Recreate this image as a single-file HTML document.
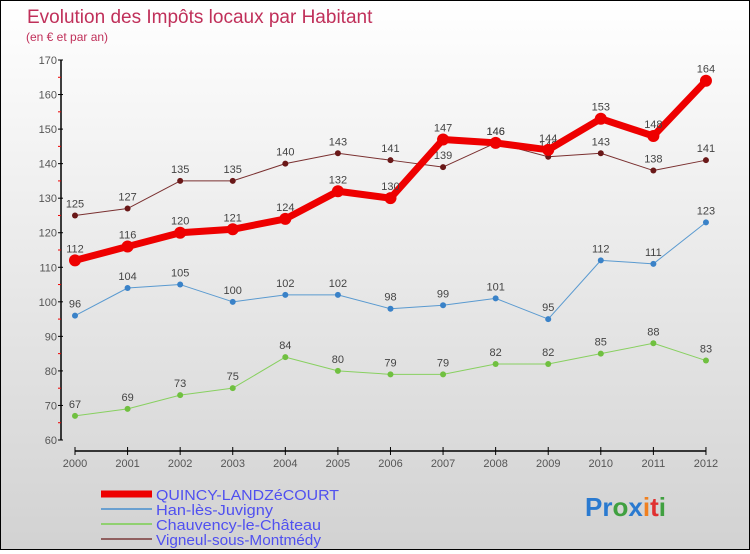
<!DOCTYPE html>
<html><head><meta charset="utf-8"><style>
body{margin:0}
#c{width:748px;height:548px;border:1px solid #000;background:linear-gradient(#fff,#d2d2d2);position:relative;font-family:"Liberation Sans",sans-serif}
</style></head><body>
<div id="c">
<svg id="s" width="748" height="548"></svg>
</div>
<script>
const years=[2000,2001,2002,2003,2004,2005,2006,2007,2008,2009,2010,2011,2012];
const quincy=[112,116,120,121,124,132,130,147,146,144,153,148,164];
const han=[96,104,105,100,102,102,98,99,101,95,112,111,123];
const chauv=[67,69,73,75,84,80,79,79,82,82,85,88,83];
const vign=[125,127,135,135,140,143,141,139,146,142,143,138,141];
const yTicks=[60,70,80,90,100,110,120,130,140,150,160,170];
const NS="http://www.w3.org/2000/svg";
const s=document.getElementById('s');
const X=i=>74+i*52.58;
const Y=v=>439-(v-60)*3.4545;
function mk(t,a,p){const e=document.createElementNS(NS,t);for(const k in a)e.setAttribute(k,a[k]);(p||s).appendChild(e);return e;}
let t=mk('text',{x:26,y:22,'font-size':19,fill:'#c0305a'});t.textContent='Evolution des Impôts locaux par Habitant';


t=mk('text',{x:25,y:40,'font-size':12,fill:'#c0305a'});t.textContent='(en € et par an)';


// y axis
let ax=mk('line',{x1:60,y1:Y(170),x2:60,y2:Y(60),stroke:'#000','stroke-width':1.5});


yTicks.forEach((v,i)=>{
 mk('line',{x1:57,x2:62,y1:Y(v),y2:Y(v),stroke:'#000'});
 if(i<yTicks.length-1)mk('line',{x1:57,x2:60,y1:Y(v+5),y2:Y(v+5),stroke:'#e00'});
 const l=mk('text',{x:56,y:Y(v)+4,'font-size':11,fill:'#555','text-anchor':'end'});l.textContent=v;
 
 
});
ax=mk('line',{x1:X(0),y1:450,x2:X(12),y2:450,stroke:'#000','stroke-width':1.5});


years.forEach((y,i)=>{
 mk('line',{x1:X(i),x2:X(i),y1:446,y2:454,stroke:'#000'});
 const l=mk('text',{x:X(i),y:466,'font-size':11,fill:'#555','text-anchor':'middle'});l.textContent=y;
 
 
});
function series(d,col,w,r,dot,name){
 const g=mk('g',{});
 
 
 mk('polyline',{points:d.map((v,i)=>X(i)+','+Y(v)).join(' '),fill:'none',stroke:col,'stroke-width':w,'stroke-linejoin':'round'},g);
 d.forEach((v,i)=>{
  const c=mk('circle',{cx:X(i),cy:Y(v),r:r,fill:dot},g);
  
  
  const l=mk('text',{x:X(i),y:Y(v)-8,'font-size':11,fill:'#444','text-anchor':'middle'},g);l.textContent=v;
 });
}
series(vign,'#7a3030',1,3,'#6a1818','series-vigneul');
series(chauv,'#88d060',1,3,'#70c040','series-chauvency');
series(han,'#5a9ad0',1,3,'#3a82c8','series-han');
series(quincy,'#ee0000',7,6,'#ee0000','series-quincy');
const leg=[['QUINCY-LANDZéCOURT','#ee0000',7],['Han-lès-Juvigny','#6aa0d0',2],['Chauvency-le-Château','#90d070',2],['Vigneul-sous-Montmédy','#906060',2]];
leg.forEach((e,i)=>{
 const y=493+i*15;
 const g=mk('g',{});
 
 
 mk('line',{x1:100,x2:151,y1:y,y2:y,stroke:e[1],'stroke-width':e[2]},g);
 const l=mk('text',{x:155,y:y+6,'font-size':15,fill:'#5050f0',textLength:e[0].length>16?(i==0?183:165):117,lengthAdjust:'spacingAndGlyphs'},g);l.textContent=e[0];
});
const lg=mk('text',{x:584,y:515,'font-size':26,'font-weight':'bold'});


[['Pr','#2a7ad0'],['o','#40a040'],['x','#2a7ad0'],['i','#f08020'],['t','#e03030'],['i','#40a040']].forEach(p=>{const ts=mk('tspan',{fill:p[1]},lg);ts.textContent=p[0];});
</script>
</body></html>
